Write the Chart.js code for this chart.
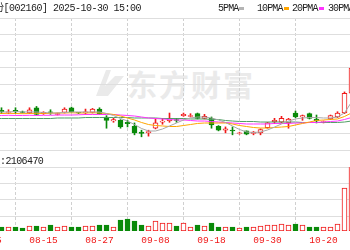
<!DOCTYPE html>
<html>
<head>
<meta charset="utf-8">
<script src="https://cdn.jsdelivr.net/npm/chart.js@4.4.1/dist/chart.umd.min.js"></script>
<style>
    html, body { margin: 0; padding: 0; background: #fff; }
    body { position: relative; width: 350px; height: 250px; overflow: hidden; }
    canvas { position: absolute; left: -15px; }
    #cPrice { top: 0; }
    #cVol { top: 152px; }
    .txt { position: absolute; white-space: pre; color: #222; font: 10px "Liberation Mono", "Noto Sans CJK SC", monospace; line-height: 12px; }
    .pre { position: absolute; right: 100%; top: 0; }
    .lg { letter-spacing: -0.9px; }
    .lg i { display: inline-block; width: 5px; height: 3px; vertical-align: middle; margin-left: 1px; }
    #wm { position: absolute; left: 127px; top: 61px; font: bold 30px "Noto Sans CJK SC", sans-serif; color: #eaeaea; letter-spacing: 2px; }
    #logo { position: absolute; left: 94px; top: 67px; }
</style>
</head>
<body>
<svg id="logo" width="32" height="30"><path d="M2 29 L12 3 L17 3 L11 19 L21 9 L30 9 L14 29 Z" fill="#eaeaea"/></svg>
<div id="wm">东方财富</div>
<canvas id="cPrice" width="378" height="152"></canvas>
<canvas id="cVol" width="378" height="98"></canvas>
<div class="txt" style="left:-6px;top:3px;letter-spacing:-0.5px"><span class="pre">常铝股</span>份[002160] 2025-10-30 15:00</div>
<div class="txt lg" style="left:218px;top:3px">5PMA<i style="background:#b4b4b4"></i></div>
<div class="txt lg" style="left:257px;top:3px">10PMA<i style="background:#ffa500"></i></div>
<div class="txt lg" style="left:292px;top:3px">20PMA<i style="background:#ff33ff"></i></div>
<div class="txt lg" style="left:328px;top:3px">30PMA<i style="background:#4f9e64"></i></div>
<div class="txt" style="left:0;top:156px;letter-spacing:-0.6px"><span class="pre">成交量</span>:2106470</div>
<script>
// --- Dados ---
const dates = ['08-05', '08-06', '08-07', '08-08', '08-11', '08-12', '08-13', '08-14', '08-15', '08-18',
    '08-19', '08-20', '08-21', '08-22', '08-25', '08-26', '08-27', '08-28', '08-29', '09-01',
    '09-02', '09-03', '09-04', '09-05', '09-08', '09-09', '09-10', '09-11', '09-12', '09-15',
    '09-16', '09-17', '09-18', '09-19', '09-22', '09-23', '09-24', '09-25', '09-26', '09-29',
    '09-30', '10-09', '10-10', '10-13', '10-14', '10-15', '10-16', '10-17', '10-20', '10-21',
    '10-22', '10-23', '10-24'];
const tickLabels = ['08-05', '08-15', '08-27', '09-08', '09-18', '09-30', '10-20'];

const opens = [null, null, 3.60, 3.57, 3.60, 3.58, 3.56, 3.64, 3.55, 3.58,
    3.54, 3.57, 3.64, 3.57, 3.56, 3.57, 3.62, 3.50, 3.44, 3.45,
    3.42, 3.36, 3.27, 3.26, 3.33, 3.42, 3.44, 3.46, 3.52, 3.51,
    3.55, 3.48, 3.48, 3.36, 3.30, 3.30, 3.25, 3.29, 3.25, 3.26,
    3.34, 3.43, 3.42, 3.41, 3.56, 3.50, 3.55, 3.47, 3.42, 3.47,
    3.50, 3.56, 3.86];
const closes = [null, null, 3.58, 3.58, 3.58, 3.57, 3.61, 3.54, 3.57, 3.57,
    3.55, 3.62, 3.58, 3.56, 3.58, 3.62, 3.55, 3.45, 3.46, 3.35,
    3.40, 3.26, 3.25, 3.28, 3.41, 3.44, 3.48, 3.45, 3.54, 3.52,
    3.48, 3.51, 3.38, 3.30, 3.32, 3.29, 3.26, 3.24, 3.27, 3.31,
    3.41, 3.45, 3.48, 3.47, 3.50, 3.52, 3.48, 3.44, 3.43, 3.52,
    3.56, 3.86, 4.24];
const highs = [null, null, 3.64, 3.61, 3.64, 3.59, 3.64, 3.66, 3.58, 3.61,
    3.56, 3.64, 3.65, 3.57, 3.62, 3.63, 3.64, 3.52, 3.48, 3.46,
    3.45, 3.41, 3.30, 3.30, 3.47, 3.48, 3.56, 3.48, 3.56, 3.55,
    3.56, 3.54, 3.50, 3.37, 3.35, 3.35, 3.27, 3.29, 3.28, 3.32,
    3.42, 3.48, 3.51, 3.48, 3.59, 3.53, 3.56, 3.53, 3.44, 3.53,
    3.58, 3.88, 4.26];
const lows = [null, null, 3.55, 3.55, 3.55, 3.56, 3.55, 3.53, 3.54, 3.54,
    3.53, 3.56, 3.57, 3.55, 3.54, 3.56, 3.54, 3.33, 3.42, 3.33,
    3.35, 3.23, 3.20, 3.21, 3.32, 3.39, 3.42, 3.42, 3.51, 3.50,
    3.47, 3.47, 3.33, 3.29, 3.26, 3.23, 3.24, 3.23, 3.23, 3.23,
    3.33, 3.40, 3.41, 3.33, 3.49, 3.45, 3.47, 3.41, 3.41, 3.46,
    3.49, 3.55, 3.85];

// volume em 10 mil lotes
const volumes = [null, null, 12.5, 12.5, 12.5, 9.4, 15.6, 15.6, 12.5, 18.8,
    12.5, 15.6, 12.5, 12.5, 15.6, 15.6, 18.8, 18.8, 12.5, 34.4,
    37.5, 31.3, 18.8, 15.6, 31.3, 25.0, 25.0, 15.6, 25.0, 12.5,
    18.8, 15.6, 25.0, 12.5, 12.5, 12.5, 9.4, 12.5, 12.5, 15.6,
    18.8, 18.8, 21.9, 18.8, 21.9, 18.8, 12.5, 12.5, 12.5, 12.5,
    21.9, 134.4, 240];

const ma5 = [null, 3.576, 3.576, 3.576, 3.583, 3.576, 3.576, 3.576, 3.568, 3.561,
    3.561, 3.568, 3.576, 3.576, 3.576, 3.576, 3.576, 3.553, 3.523, 3.477,
    3.439, 3.386, 3.326, 3.288, 3.288, 3.318, 3.364, 3.409, 3.455, 3.485,
    3.500, 3.500, 3.485, 3.455, 3.417, 3.364, 3.311, 3.273, 3.265, 3.273,
    3.303, 3.348, 3.394, 3.439, 3.470, 3.485, 3.492, 3.492, 3.485, 3.485,
    3.500, 3.561, 3.727];
const ma10 = [null, 3.553, 3.553, 3.556, 3.553, 3.550, 3.553, 3.556, 3.553, 3.556,
    3.561, 3.561, 3.564, 3.561, 3.561, 3.564, 3.561, 3.553, 3.538, 3.515,
    3.485, 3.455, 3.417, 3.386, 3.371, 3.364, 3.356, 3.356, 3.371, 3.386,
    3.402, 3.409, 3.409, 3.409, 3.409, 3.394, 3.371, 3.356, 3.341, 3.333,
    3.333, 3.341, 3.348, 3.356, 3.379, 3.402, 3.424, 3.447, 3.455, 3.462,
    3.470, 3.508, 3.561];
const ma20 = [null, 3.523, 3.523, 3.526, 3.523, 3.523, 3.526, 3.523, 3.526, 3.526,
    3.530, 3.530, 3.530, 3.533, 3.538, 3.538, 3.538, 3.538, 3.538, 3.530,
    3.523, 3.515, 3.500, 3.485, 3.477, 3.470, 3.462, 3.455, 3.455, 3.447,
    3.439, 3.439, 3.432, 3.424, 3.417, 3.409, 3.402, 3.394, 3.394, 3.394,
    3.394, 3.402, 3.402, 3.402, 3.409, 3.409, 3.417, 3.417, 3.424, 3.432,
    3.439, 3.462, 3.492];
const ma30 = [null, 3.477, 3.477, 3.477, 3.477, 3.477, 3.477, 3.477, 3.477, 3.477,
    3.485, 3.485, 3.485, 3.485, 3.492, 3.492, 3.492, 3.492, 3.492, 3.492,
    3.492, 3.485, 3.485, 3.485, 3.485, 3.477, 3.477, 3.477, 3.477, 3.470,
    3.470, 3.470, 3.462, 3.462, 3.447, 3.439, 3.432, 3.432, 3.432, 3.424,
    3.424, 3.424, 3.424, 3.424, 3.424, 3.417, 3.417, 3.417, 3.417, 3.417,
    3.417, 3.424, 3.439];

const priceGrid = [3.0, 3.25, 4.0, 4.25, 4.5, 4.75, 5.0];
const volumeGrid = [45, 97, 147, 200];

// --- Configuração visual ---
const corAlta = '#f01818';
const corBaixa = '#0a8a0a';
const corGrade = '#dedede';
const corGradeX = '#d0d0d0';
const maCores = ['#a8a8a8', '#ffa500', '#ff33ff', '#4f9e64'];

// escala x: 7 px por pregão, recortada como no original
const X_MIN = -2.5 / 7;
const X_MAX = X_MIN + 378 / 7;

const idxCandles = dates.map((d, i) => i).filter(i => opens[i] !== null);
const subiu = i => closes[i] >= opens[i];
const tickIdx = tickLabels.map(t => dates.indexOf(t));

const serie = arr => arr.map((v, i) => (v === null ? null : { x: i, y: v })).filter(Boolean);

const eixoX = (mostrarTicks, altura) => ({
    type: 'linear',
    min: X_MIN,
    max: X_MAX,
    offset: false,
    afterBuildTicks: s => { s.ticks = tickIdx.map(v => ({ value: v })); },
    ticks: {
        display: mostrarTicks,
        autoSkip: false,
        maxRotation: 0,
        padding: 4,
        color: corAlta,
        font: { family: 'Liberation Mono', size: 9.5 },
        callback: v => dates[v]
    },
    grid: { color: corGradeX, drawTicks: false },
    border: { display: false, dash: [3, 2] },
    // sem recuo automático para os rótulos cortados nas bordas
    afterFit: s => { s.height = altura; s.paddingLeft = 0; s.paddingRight = 0; }
});

const eixoY = (min, max, linhas) => ({
    min,
    max,
    afterBuildTicks: s => { s.ticks = linhas.map(v => ({ value: v })); },
    ticks: { display: false },
    grid: { color: corGrade, drawTicks: false },
    border: { display: false },
    afterFit: s => { s.width = 0; }
});

const opcoesBase = {
    responsive: false,
    animation: false,
    devicePixelRatio: 1,
    events: [],
    plugins: { legend: { display: false }, tooltip: { enabled: false } }
};

// GRÁFICO 1: candles + médias móveis
const linhasMA = [ma5, ma10, ma20, ma30].map((arr, k) => ({
    type: 'line',
    data: serie(arr),
    borderColor: maCores[k],
    borderWidth: 1,
    pointRadius: 0,
    tension: 0,
    order: 0
}));

new Chart(document.getElementById('cPrice'), {
    type: 'bar',
    data: {
        datasets: [
            ...linhasMA,
            {
                data: idxCandles.map(i => ({ x: i, y: [opens[i], closes[i]] })),
                backgroundColor: idxCandles.map(i => (subiu(i) ? '#fff' : corBaixa)),
                borderColor: idxCandles.map(i => (subiu(i) ? corAlta : corBaixa)),
                borderWidth: 1,
                borderSkipped: false,
                barThickness: 5,
                grouped: false,
                order: 1
            },
            {
                data: idxCandles.map(i => ({ x: i, y: [lows[i], highs[i]] })),
                backgroundColor: idxCandles.map(i => (subiu(i) ? corAlta : corBaixa)),
                barThickness: 1,
                grouped: false,
                order: 2
            }
        ]
    },
    options: {
        ...opcoesBase,
        layout: { autoPadding: false, padding: { top: 18, bottom: 2, left: 0, right: 0 } },
        scales: { x: eixoX(false, 0), y: eixoY(3, 5, priceGrid) }
    }
});

// GRÁFICO 2: volume
new Chart(document.getElementById('cVol'), {
    type: 'bar',
    data: {
        datasets: [{
            data: idxCandles.map(i => ({ x: i, y: volumes[i] })),
            backgroundColor: idxCandles.map(i => (subiu(i) ? '#fff' : corBaixa)),
            borderColor: idxCandles.map(i => (subiu(i) ? corAlta : corBaixa)),
            borderWidth: 1,
            borderSkipped: false,
            barThickness: 5,
            grouped: false
        }]
    },
    options: {
        ...opcoesBase,
        layout: { autoPadding: false, padding: { top: 15, bottom: 0, left: 0, right: 0 } },
        scales: { x: eixoX(true, 19), y: eixoY(0, 200, volumeGrid) }
    }
});
</script>
</body>
</html>
